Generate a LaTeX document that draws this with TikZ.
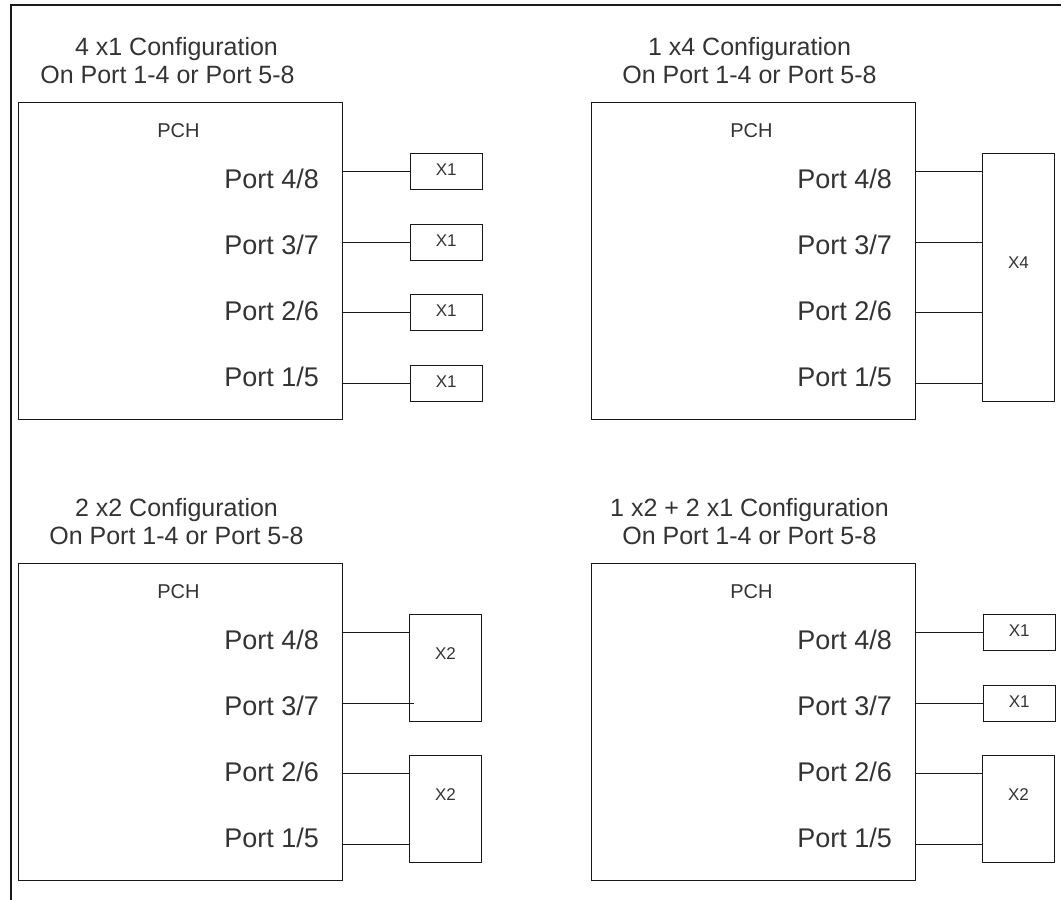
\documentclass[tikz,border=0pt]{standalone}
\usepackage{fontspec}
\setmainfont{Liberation Sans}
\usetikzlibrary{calc,positioning}
\colorlet{txt}{black!80}
\tikzset{
    title/.style={anchor=base, text=txt, font=\fontsize{25}{30}\selectfont},
    pchbox/.style={draw, anchor=north west, inner sep=0pt, minimum width=324pt, minimum height=317pt},
    pchname/.style={anchor=base, text=txt, font=\fontsize{20}{24}\selectfont},
    portname/.style={anchor=base east, text=txt, font=\fontsize{27}{32}\selectfont},
    sidebox/.style={draw, inner sep=0pt, minimum width=72pt},
    sidelab/.style={text=txt, font=\fontsize{17}{20}\selectfont}
}
% PCH block with its title, its name and the four port labels
\newcommand{\pchbody}[5]{
    \begin{scope}[shift={(#2,#3)}]
        \node[title] (#1-t1) at (159,-46) {#4};
        \node[title] (#1-t2) at (#5,-18) {On Port 1-4 or Port 5-8};
        \node[pchbox] (#1-pch) at (0,0) {};
        \node[pchname] (#1-name) at (161,35.5) {PCH};
        \foreach \k/\a/\b/\y in {1/4/8/70,2/3/7/141,3/2/6/211,4/1/5/282}{
            \node[portname] (#1-p\k) at (305.5,{86.5+66*(\k-1)}) {Port \a/\b};
            \coordinate (#1-c\k) at (324,\y);
        }
    \end{scope}
}

\begin{document}
\begin{tikzpicture}[x=1pt, y=-1pt, line width=1.3pt, draw=black!90]

    \useasboundingbox (0,0) rectangle (1061,900);

    % Frame, top and left side only
    \draw[line width=2.2pt] (11,900) -- (11,5) -- (1061,5);

    % The four PCH blocks
    \pchbody{A}{17.5}{101.5}{4 x1 Configuration}{150}
    \pchbody{B}{590.5}{101.5}{1 x4 Configuration}{159}
    \pchbody{C}{17.5}{562.5}{2 x2 Configuration}{159}
    \pchbody{D}{590.5}{562.5}{1 x2 + 2 x1 Configuration}{159}

    % 4 x1: one X1 on every port
    \foreach \k in {1,...,4}{
        \node[sidebox, minimum height=36pt, right=68pt of A-c\k,
            label={[sidelab, yshift=2pt]center:X1}] (A-x\k) {};
        \draw (A-c\k) -- (A-x\k.west);
    }

    % 1 x4: one X4 over all ports
    \node[sidebox, minimum height=248pt, label={[sidelab, yshift=14.5pt]center:X4}]
        (B-x4) at ($(B-c1)!0.5!(B-c4)+(104,0)$) {};
    \foreach \k in {1,...,4}{
        \draw (B-c\k) -- (B-c\k -| B-x4.west);
    }

    % 2 x2: two X2
    \node[sidebox, minimum height=107pt, label={[sidelab, yshift=14.5pt]center:X2}]
        (C-x2a) at ($(C-c1)!0.5!(C-c2)+(104,0)$) {};
    \node[sidebox, minimum height=107pt, label={[sidelab, yshift=14.5pt]center:X2}]
        (C-x2b) at ($(C-c3)!0.5!(C-c4)+(104,0)$) {};
    \draw (C-c1) -- (C-c1 -| C-x2a.west);
    \draw (C-c2) -- ($(C-c2 -| C-x2a.west)+(5,0)$);
    \draw (C-c3) -- (C-c3 -| C-x2b.west);
    \draw (C-c4) -- (C-c4 -| C-x2b.west);

    % 1 x2 + 2 x1: X1, X1 and X2
    \foreach \k in {1,2}{
        \node[sidebox, minimum height=36pt, right=68pt of D-c\k,
            label={[sidelab, yshift=2pt]center:X1}] (D-x\k) {};
        \draw (D-c\k) -- (D-x\k.west);
    }
    \node[sidebox, minimum height=107pt, label={[sidelab, yshift=14.5pt]center:X2}]
        (D-x2) at ($(D-c3)!0.5!(D-c4)+(104,0)$) {};
    \draw (D-c3) -- (D-c3 -| D-x2.west);
    \draw (D-c4) -- (D-c4 -| D-x2.west);

\end{tikzpicture}
\end{document}
